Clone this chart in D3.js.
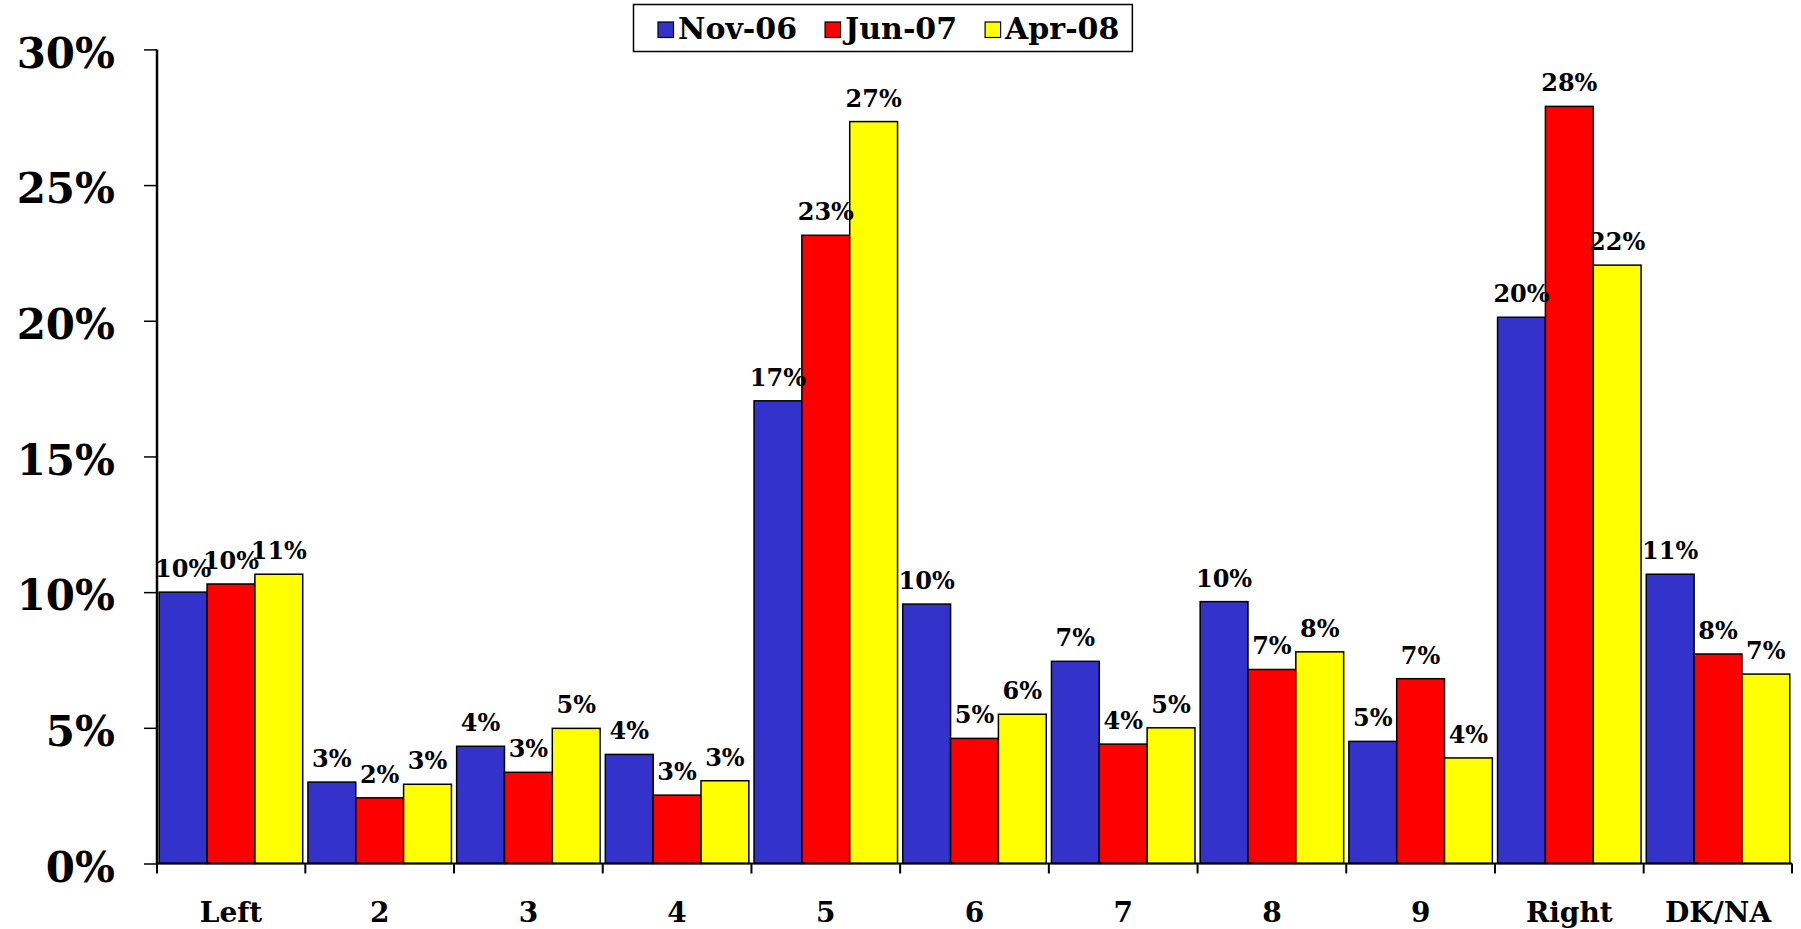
<!DOCTYPE html>
<html>
<head>
<meta charset="utf-8">
<script src="https://cdn.jsdelivr.net/npm/d3@7"></script>
<style>
  html, body { margin: 0; padding: 0; background: #fff; }
  svg { display: block; }
  text { font-family: "DejaVu Serif", "Liberation Serif", serif; font-weight: bold; fill: #000; }
</style>
</head>
<body>
<svg id="chart" width="1801" height="929"></svg>
<script>
const categories = ["Left", "2", "3", "4", "5", "6", "7", "8", "9", "Right", "DK/NA"];
const seriesNames = ["Nov-06", "Jun-07", "Apr-08"];
const seriesColors = ["#3333CC", "#FF0000", "#FFFF00"];
const nov06 = [10.0, 3.0, 4.32, 4.02, 17.05, 9.56, 7.45, 9.65, 4.5, 20.13, 10.66];
const jun07 = [10.3, 2.42, 3.36, 2.52, 23.15, 4.61, 4.4, 7.15, 6.81, 27.9, 7.72];
const apr08 = [10.66, 2.92, 4.98, 3.05, 27.34, 5.5, 5.0, 7.8, 3.89, 22.05, 6.98];
const yTicks = [0, 5, 10, 15, 20, 25, 30];

const series = [nov06, jun07, apr08];
const svg = d3.select("#chart");

const mLeft = 157, mRight = 1792, mTop = 49.4, mBottom = 863.5;

const x = d3.scaleBand().domain(categories).range([mLeft, mRight]).paddingInner(0.035).paddingOuter(0.015);
const xs = d3.scaleBand().domain(seriesNames).range([0, x.bandwidth()]).padding(0);
const y = d3.scaleLinear().domain([0, 30]).range([mBottom, mTop]);

// bars
const rows = [];
categories.forEach((c, i) => {
  seriesNames.forEach((s, j) => rows.push({ cat: c, ser: s, color: seriesColors[j], v: series[j][i] }));
});

svg.append("g").selectAll("rect").data(rows).join("rect")
  .attr("x", d => x(d.cat) + xs(d.ser))
  .attr("y", d => y(d.v))
  .attr("width", xs.bandwidth())
  .attr("height", d => y(0) - y(d.v))
  .attr("fill", d => d.color)
  .attr("stroke", "#000")
  .attr("stroke-width", 1.5);

// value labels
svg.append("g").selectAll("text").data(rows).join("text")
  .attr("x", d => x(d.cat) + xs(d.ser) + xs.bandwidth() / 2)
  .attr("y", d => y(d.v) - 15)
  .attr("text-anchor", "middle")
  .style("font-size", "24px")
  .text(d => Math.round(d.v) + "%");

// y axis
const yAxis = svg.append("g").attr("transform", `translate(${mLeft},0)`)
  .call(d3.axisLeft(y).tickValues(yTicks).tickSize(13).tickPadding(29).tickFormat(d => d + "%"));
yAxis.select(".domain").attr("stroke", "#000").attr("stroke-width", 2.5).attr("d", `M0,${mTop}V${mBottom}`);
yAxis.selectAll(".tick line").attr("stroke", "#000").attr("stroke-width", 1.5);
yAxis.selectAll(".tick text").style("font-size", "42px").attr("dy", "0.42em");

// x axis
const xAxis = svg.append("g").attr("transform", `translate(0,${mBottom})`)
  .call(d3.axisBottom(x).tickSize(0).tickPadding(0));
xAxis.select(".domain").attr("stroke", "#000").attr("stroke-width", 2).attr("d", `M${mLeft},0H${mRight}`);
xAxis.selectAll(".tick text").style("font-size", "28px").attr("y", 58).attr("dy", 0);

const gap = (x.step() - x.bandwidth()) / 2;
const bounds = categories.map(c => x(c) - gap).concat([mRight]);
bounds[0] = mLeft;
xAxis.append("g").selectAll("line").data(bounds).join("line")
  .attr("x1", d => d).attr("x2", d => d)
  .attr("y1", 0).attr("y2", 10)
  .attr("stroke", "#000").attr("stroke-width", 2);

// legend
const lg = svg.append("g");
const box = lg.append("rect").attr("x", 633.5).attr("y", 4.5).attr("width", 500).attr("height", 47)
  .attr("fill", "#fff").attr("stroke", "#000").attr("stroke-width", 1.5);
let cx = 658;
seriesNames.forEach((s, j) => {
  lg.append("rect").attr("x", cx).attr("y", 22).attr("width", 15.5).attr("height", 15.5)
    .attr("fill", seriesColors[j]).attr("stroke", "#000").attr("stroke-width", 1.2);
  const t = lg.append("text").attr("x", cx + 20).attr("y", 39).style("font-size", "30px").text(s);
  const w = t.node().getComputedTextLength();
  cx += 20 + w + 28;
});
const legendRight = cx - 28 + 13;
box.attr("width", legendRight - 633.5);
</script>
</body>
</html>
